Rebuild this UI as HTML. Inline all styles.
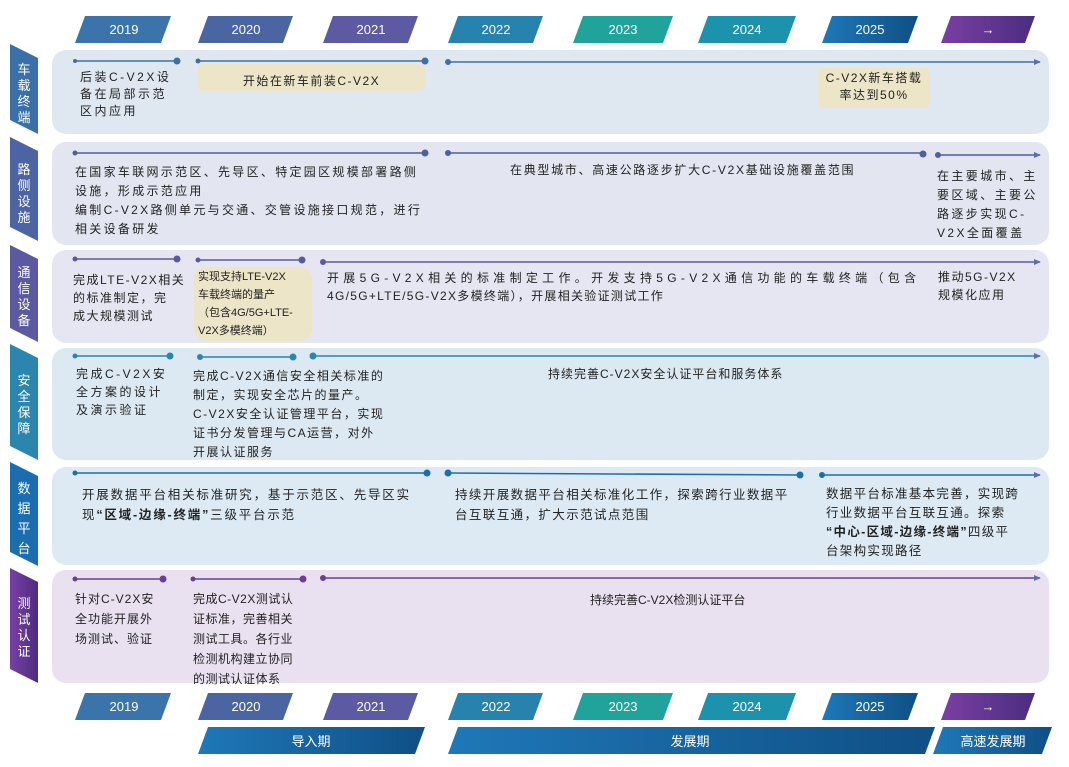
<!DOCTYPE html>
<html><head><meta charset="utf-8"><style>
body{margin:0;width:1069px;height:767px;background:#fff;overflow:hidden;position:relative;font-family:"Liberation Sans","Noto Sans CJK SC",sans-serif;color:#222}
.t{position:absolute;font-size:12px;line-height:17px;white-space:nowrap}
.y{position:absolute;background:#ece5c8;border-radius:6px}
svg{position:absolute;left:0;top:0}
.w{fill:#fff;font-size:13px;font-family:"Liberation Sans","Noto Sans CJK SC",sans-serif}
.lb{fill:#fff;font-size:13px;font-family:"Liberation Sans","Noto Sans CJK SC",sans-serif}
</style></head><body>
<svg width="1069" height="767">
<defs>
<linearGradient id="gb" x1="0" x2="1"><stop offset="0" stop-color="#1f78b8"/><stop offset="1" stop-color="#0f4f85"/></linearGradient>
<linearGradient id="gp" x1="0" x2="1"><stop offset="0" stop-color="#7a3fa3"/><stop offset="1" stop-color="#4b2d80"/></linearGradient>
<marker id="ar" markerUnits="userSpaceOnUse" markerWidth="7" markerHeight="6" refX="6" refY="3" orient="auto"><path d="M0,0L7,3L0,6z" fill="#5b6fa8"/></marker>
</defs>
<rect x="52" y="50" width="997" height="84" rx="14" fill="#dfe8f1"/>
<rect x="52" y="142" width="997" height="103" rx="14" fill="#e3e6f1"/>
<rect x="52" y="250" width="997" height="93" rx="14" fill="#e6e6f2"/>
<rect x="52" y="348" width="997" height="112" rx="14" fill="#dde9f2"/>
<rect x="52" y="467" width="997" height="98" rx="14" fill="#ddeaf4"/>
<rect x="52" y="570" width="997" height="113" rx="14" fill="#e9e1f0"/>
<g>
<path d="M10,44L38,58L38,134L10,120z" fill="#3a6fa8"/>
<path d="M10,137L38,151L38,241L10,227z" fill="#4d64a4"/>
<path d="M10,245L38,259L38,342L10,328z" fill="#5b5aa0"/>
<path d="M10,344L38,358L38,460L10,446z" fill="#2a86ad"/>
<path d="M10,462L38,476L38,566L10,552z" fill="#1a6eb0"/>
<path d="M10,568L38,582L38,683L10,669z" fill="url(#gp)"/>
</g>
<g class="lb" text-anchor="middle">
<text x="24" y="74">车</text><text x="24" y="90">载</text><text x="24" y="106">终</text><text x="24" y="122">端</text>
<text x="24" y="174">路</text><text x="24" y="190">侧</text><text x="24" y="206">设</text><text x="24" y="222">施</text>
<text x="24" y="277">通</text><text x="24" y="293">信</text><text x="24" y="309">设</text><text x="24" y="325">备</text>
<text x="24" y="385">安</text><text x="24" y="401">全</text><text x="24" y="417">保</text><text x="24" y="433">障</text>
<text x="24" y="493">数</text><text x="24" y="513">据</text><text x="24" y="533">平</text><text x="24" y="553">台</text>
<text x="24" y="608">测</text><text x="24" y="624">试</text><text x="24" y="640">认</text><text x="24" y="656">证</text>
</g>
<g>
<path d="M85,16L171,16L161,43L75,43z" fill="#3a74ab"/>
<path d="M208,16L293,16L283,43L198,43z" fill="#4b65a3"/>
<path d="M333,16L418,16L408,43L323,43z" fill="#5c5aa2"/>
<path d="M458,16L543,16L533,43L448,43z" fill="#2783ae"/>
<path d="M583,16L673,16L663,43L573,43z" fill="#1fa39a"/>
<path d="M708,16L796,16L786,43L698,43z" fill="#1d92ac"/>
<path d="M832,16L918,16L908,43L822,43z" fill="url(#gb)"/>
<path d="M951,16L1035,16L1025,43L941,43z" fill="url(#gp)"/>
</g>
<g class="w" text-anchor="middle">
<text x="124" y="34">2019</text><text x="246" y="34">2020</text><text x="371" y="34">2021</text><text x="496" y="34">2022</text>
<text x="623" y="34">2023</text><text x="747" y="34">2024</text><text x="870" y="34">2025</text><text x="988" y="34">→</text>
</g>
<g transform="translate(0,677)">
<path d="M85,16L171,16L161,43L75,43z" fill="#3a74ab"/>
<path d="M208,16L293,16L283,43L198,43z" fill="#4b65a3"/>
<path d="M333,16L418,16L408,43L323,43z" fill="#5c5aa2"/>
<path d="M458,16L543,16L533,43L448,43z" fill="#2783ae"/>
<path d="M583,16L673,16L663,43L573,43z" fill="#1fa39a"/>
<path d="M708,16L796,16L786,43L698,43z" fill="#1d92ac"/>
<path d="M832,16L918,16L908,43L822,43z" fill="url(#gb)"/>
<path d="M951,16L1035,16L1025,43L941,43z" fill="url(#gp)"/>
</g>
<g class="w" text-anchor="middle">
<text x="124" y="711">2019</text><text x="246" y="711">2020</text><text x="371" y="711">2021</text><text x="496" y="711">2022</text>
<text x="623" y="711">2023</text><text x="747" y="711">2024</text><text x="870" y="711">2025</text><text x="988" y="711">→</text>
</g>
<path d="M208,727L425,727L415,754L198,754z" fill="url(#gb)"/>
<path d="M458,727L935,727L925,754L448,754z" fill="url(#gb)"/>
<path d="M943,727L1052,727L1042,754L933,754z" fill="url(#gb)"/>
<g class="w" text-anchor="middle">
<text x="311" y="746">导入期</text><text x="690" y="746">发展期</text><text x="993" y="746">高速发展期</text>
</g>
<g stroke-width="1.5" fill="none">
<g stroke="#3f6ea6"><line x1="75" y1="61" x2="177" y2="61"/><line x1="198" y1="61" x2="425" y2="61"/><line x1="448" y1="62" x2="1040" y2="62" marker-end="url(#ar)"/></g>
<g stroke="#4d5fa2"><line x1="75" y1="153" x2="425" y2="153"/><line x1="448" y1="153" x2="923" y2="153"/><line x1="938" y1="155" x2="1040" y2="155" marker-end="url(#ar)"/></g>
<g stroke="#5a58a0"><line x1="75" y1="259" x2="177" y2="259"/><line x1="198" y1="260" x2="302" y2="260"/><line x1="323" y1="262" x2="1040" y2="262" marker-end="url(#ar)"/></g>
<g stroke="#2a86ad"><line x1="75" y1="356" x2="170" y2="356"/><line x1="200" y1="357" x2="293" y2="357"/><line x1="313" y1="356" x2="1040" y2="356" marker-end="url(#ar)"/></g>
<g stroke="#1a6eb0"><line x1="75" y1="473" x2="427" y2="473"/><line x1="448" y1="473" x2="800" y2="475"/><line x1="822" y1="475" x2="1040" y2="475" marker-end="url(#ar)"/></g>
<g stroke="#6a3d97"><line x1="75" y1="579" x2="163" y2="579"/><line x1="193" y1="579" x2="303" y2="579"/><line x1="323" y1="578" x2="1040" y2="578" marker-end="url(#ar)"/></g>
</g>
<g>
<g fill="#3f6ea6"><circle cx="75" cy="61" r="2"/><circle cx="177" cy="61" r="3.5"/><circle cx="198" cy="61" r="2.5"/><circle cx="425" cy="61" r="3.5"/><circle cx="448" cy="62" r="3"/></g>
<g fill="#4d5fa2"><circle cx="75" cy="153" r="2.5"/><circle cx="425" cy="153" r="3.5"/><circle cx="448" cy="153" r="3"/><circle cx="923" cy="154" r="3.5"/><circle cx="938" cy="155" r="3"/></g>
<g fill="#5a58a0"><circle cx="75" cy="259" r="2.5"/><circle cx="177" cy="259" r="3.5"/><circle cx="198" cy="260" r="2.5"/><circle cx="302" cy="260" r="3.5"/><circle cx="323" cy="262" r="3"/></g>
<g fill="#2a86ad"><circle cx="75" cy="356" r="2.5"/><circle cx="170" cy="356" r="3.5"/><circle cx="200" cy="357" r="3"/><circle cx="293" cy="357" r="3.5"/><circle cx="313" cy="356" r="3.5"/></g>
<g fill="#1a6eb0"><circle cx="75" cy="473" r="2.5"/><circle cx="427" cy="473" r="3.5"/><circle cx="448" cy="473" r="3.5"/><circle cx="800" cy="475" r="3.5"/><circle cx="822" cy="475" r="3"/></g>
<g fill="#6a3d97"><circle cx="75" cy="579" r="2.5"/><circle cx="163" cy="579" r="3.5"/><circle cx="193" cy="579" r="2.5"/><circle cx="303" cy="579" r="3.5"/><circle cx="323" cy="578" r="3"/></g>
</g>
</svg>
<div class="t" style="left:80px;top:69px;letter-spacing:2.5px">后装C-V2X设<br>备在局部示范<br>区内应用</div>
<div class="y" style="left:198px;top:64px;width:227px;height:27px"></div>
<div class="t" style="left:198px;top:73px;width:227px;text-align:center;letter-spacing:1.5px">开始在新车前装C-V2X</div>
<div class="y" style="left:818px;top:68px;width:112px;height:40px"></div>
<div class="t" style="left:818px;top:70px;width:112px;text-align:center;line-height:17px;letter-spacing:1.5px">C-V2X新车搭载<br>率达到50%</div>
<div class="t" style="left:75px;top:163px;line-height:19px;letter-spacing:2.3px">在国家车联网示范区、先导区、特定园区规模部署路侧<br>设施，形成示范应用<br>编制C-V2X路侧单元与交通、交管设施接口规范，进行<br>相关设备研发</div>
<div class="t" style="left:510px;top:162px;letter-spacing:1.7px">在典型城市、高速公路逐步扩大C-V2X基础设施覆盖范围</div>
<div class="t" style="left:937px;top:167px;line-height:19px;letter-spacing:2.4px">在主要城市、主<br>要区域、主要公<br>路逐步实现C-<br>V2X全面覆盖</div>
<div class="y" style="left:194px;top:267px;width:118px;height:74px;border-radius:12px"></div>
<div class="t" style="left:73px;top:271px;line-height:18px;letter-spacing:1.5px">完成LTE-V2X相关<br>的标准制定，完<br>成大规模测试</div>
<div class="t" style="left:198px;top:268px;line-height:18px;font-size:11px">实现支持LTE-V2X<br>车载终端的量产<br>（包含4G/5G+LTE-<br>V2X多模终端）</div>
<div class="t" style="left:327px;top:269px;line-height:18px;letter-spacing:4.3px">开展5G-V2X相关的标准制定工作。开发支持5G-V2X通信功能的车载终端（包含</div>
<div class="t" style="left:327px;top:287px;line-height:18px;letter-spacing:1.3px">4G/5G+LTE/5G-V2X多模终端），开展相关验证测试工作</div>
<div class="t" style="left:938px;top:268px;line-height:18px;letter-spacing:1.5px">推动5G-V2X<br>规模化应用</div>
<div class="t" style="left:76px;top:365px;line-height:18px;letter-spacing:2.5px">完成C-V2X安<br>全方案的设计<br>及演示验证</div>
<div class="t" style="left:193px;top:367px;line-height:19px;letter-spacing:1.5px">完成C-V2X通信安全相关标准的<br>制定，实现安全芯片的量产。<br>C-V2X安全认证管理平台，实现<br>证书分发管理与CA运营，对外<br>开展认证服务</div>
<div class="t" style="left:548px;top:366px;letter-spacing:1px">持续完善C-V2X安全认证平台和服务体系</div>
<div class="t" style="left:82px;top:485px;line-height:20px;font-size:12.5px;letter-spacing:1.8px">开展数据平台相关标准研究，基于示范区、先导区实<br>现<b>“区域-边缘-终端”</b>三级平台示范</div>
<div class="t" style="left:455px;top:485px;line-height:20px;font-size:12.5px;letter-spacing:1.4px">持续开展数据平台相关标准化工作，探索跨行业数据平<br>台互联互通，扩大示范试点范围</div>
<div class="t" style="left:826px;top:485px;line-height:19px;font-size:12.5px;letter-spacing:1.3px">数据平台标准基本完善，实现跨<br>行业数据平台互联互通。探索<br><b>“中心-区域-边缘-终端”</b>四级平<br>台架构实现路径</div>
<div class="t" style="left:75px;top:589px;line-height:20px;letter-spacing:1px">针对C-V2X安<br>全功能开展外<br>场测试、验证</div>
<div class="t" style="left:193px;top:589px;line-height:20px;letter-spacing:0.5px">完成C-V2X测试认<br>证标准，完善相关<br>测试工具。各行业<br>检测机构建立协同<br>的测试认证体系</div>
<div class="t" style="left:590px;top:592px">持续完善C-V2X检测认证平台</div>
</body></html>
